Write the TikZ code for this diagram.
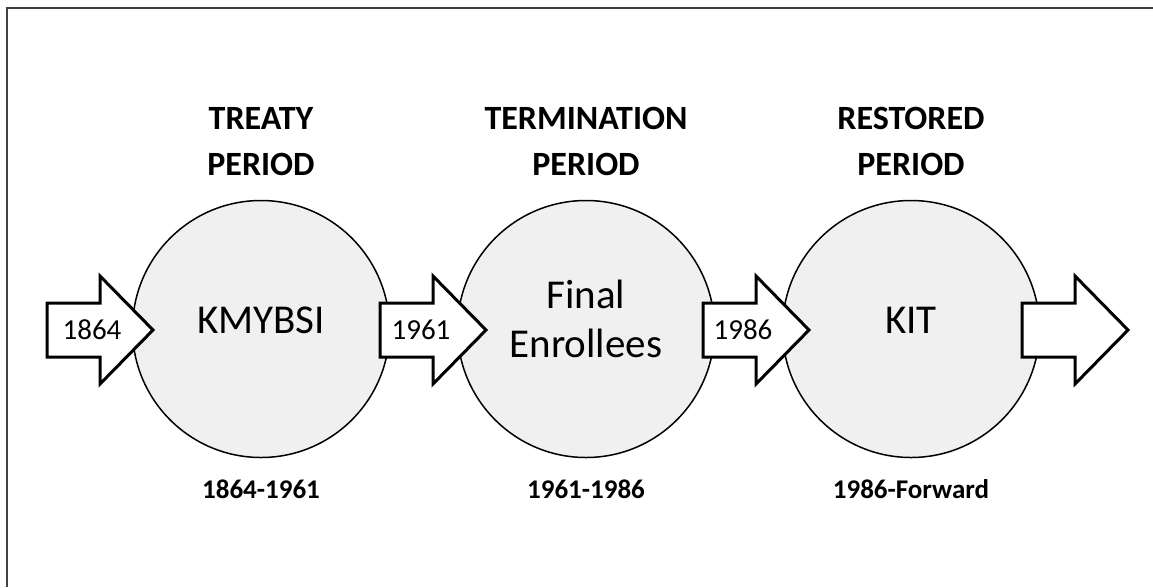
\documentclass[tikz,border=0pt]{standalone}
\usepackage{fontspec}
\setmainfont{Carlito}
\definecolor{circfill}{HTML}{F0F0F0}
\definecolor{framegray}{HTML}{404040}
\tikzset{
  period/.style={circle, draw=black, line width=1.5pt, fill=circfill, minimum size=257pt, inner sep=0pt},
  head/.style={font=\bfseries\fontsize{34}{46}\selectfont, align=center, anchor=base, inner sep=0pt},
  inner/.style={font=\fontsize{41}{49}\selectfont, align=center, inner sep=0pt},
  dates/.style={font=\bfseries\fontsize{27}{30}\selectfont, anchor=base, inner sep=0pt},
  yearlbl/.style={font=\fontsize{29}{32}\selectfont, anchor=base, inner sep=0pt},
  arrowline/.style={draw=black, fill=white, line width=3pt, line join=miter},
  barrow/.pic={\path[arrowline] (0,-27) -- (53,-27) -- (53,-54) -- (106,0) -- (53,54) -- (53,27) -- (0,27) -- cycle;}
}
\begin{document}
\begin{tikzpicture}[x=1pt,y=-1pt]
\useasboundingbox (0,0) rectangle (1153,587);
\draw[framegray, line width=2pt] (7,587) -- (7,7.5) -- (1153,7.5);

\node[period] (c1) at (261,329) {};
\node[period] (c2) at (586,329) {};
\node[period] (c3) at (911,329) {};

\pic at (47,330) {barrow};
\pic at (380,330) {barrow};
\pic at (703,330) {barrow};
\pic at (1022,330) {barrow};

\node[yearlbl] (y1) at (92,339) {1864};
\node[yearlbl] (y2) at (421,339) {1961};
\node[yearlbl] (y3) at (743,339) {1986};

\node[inner, anchor=base] (t1) at (261,333) {KMYBSI};
\node[inner, anchor=base] (t2a) at (586,308) {Final};
\node[inner, anchor=base] (t2b) at (586,357) {Enrollees};
\node[inner, anchor=base] (t3) at (911,333) {KIT};

\node[head] (h1a) at (261,129) {TREATY};
\node[head] (h1b) at (261,175) {PERIOD};
\node[head] (h2a) at (586,129) {TERMINATION};
\node[head] (h2b) at (586,175) {PERIOD};
\node[head] (h3a) at (911,129) {RESTORED};
\node[head] (h3b) at (911,175) {PERIOD};

\node[dates] (d1) at (261,498) {1864-1961};
\node[dates] (d2) at (586,498) {1961-1986};
\node[dates] (d3) at (911,498) {1986-Forward};
\end{tikzpicture}
\end{document}
